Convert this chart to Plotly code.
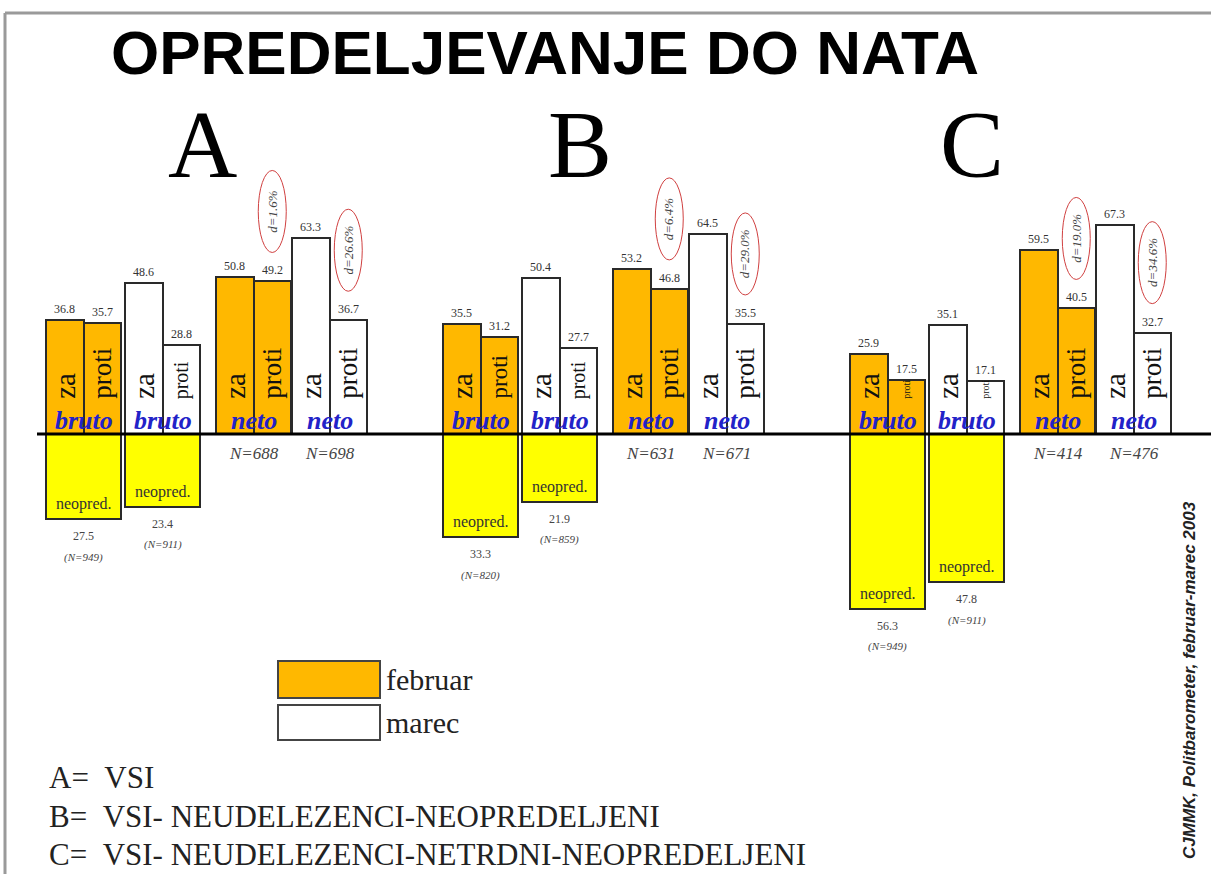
import plotly.graph_objects as go

# --- data ---
groups = ["A", "B", "C"]
feb_bruto_za = [36.8, 35.5, 25.9]
feb_bruto_proti = [35.7, 31.2, 17.5]
mar_bruto_za = [48.6, 50.4, 35.1]
mar_bruto_proti = [28.8, 27.7, 17.1]
feb_neto_za = [50.8, 53.2, 59.5]
feb_neto_proti = [49.2, 46.8, 40.5]
mar_neto_za = [63.3, 64.5, 67.3]
mar_neto_proti = [36.7, 35.5, 32.7]
feb_neopred = [27.5, 33.3, 56.3]
mar_neopred = [23.4, 21.9, 47.8]
feb_neopred_n = [949, 820, 949]
mar_neopred_n = [911, 859, 911]
feb_neto_n = [688, 631, 414]
mar_neto_n = [698, 671, 476]
group_notes = ["VSI",
               "VSI- NEUDELEZENCI-NEOPREDELJENI",
               "VSI- NEUDELEZENCI-NETRDNI-NEOPREDELJENI"]

# --- layout constants ---
W, H = 1211, 874
BASE = 434          # pixel row of the zero line
PPU = 3.1           # pixels per percentage point
group_start = [46, 443, 850]
sub_offset = [0, 79, 170, 246]   # feb bruto, marec bruto, feb neto, marec neto
bw = 37.5
ORANGE = "#FFB800"
YELLOW = "#FFFF00"
EDGE = "#2a2a2a"
BLUE = "#2222c8"
SERIF = "Liberation Serif"
proti_size_bruto_feb = [27, 23, 10]
proti_size_bruto_mar = [20, 20, 10]


def px(x):
    return x / W


def py(y):
    return 1 - y / H


def bar_x(g, s, b):
    return group_start[g] + sub_offset[s] + b * bw + bw / 2


fig = go.Figure()

# orange (februar) and white (marec) bars
for color, subs in [(ORANGE, [(0, feb_bruto_za, feb_bruto_proti), (2, feb_neto_za, feb_neto_proti)]),
                    ("white", [(1, mar_bruto_za, mar_bruto_proti), (3, mar_neto_za, mar_neto_proti)])]:
    xs, ys = [], []
    for s, za, proti in subs:
        for g in range(3):
            xs += [bar_x(g, s, 0), bar_x(g, s, 1)]
            ys += [za[g], proti[g]]
    fig.add_trace(go.Bar(x=xs, y=ys, width=bw, marker=dict(color=color, line=dict(color=EDGE, width=2)),
                         showlegend=False, hoverinfo="y"))

# neopredeljeni (yellow, below zero)
nx, ny = [], []
for g in range(3):
    nx += [group_start[g] + sub_offset[0] + bw, group_start[g] + sub_offset[1] + bw]
    ny += [-feb_neopred[g], -mar_neopred[g]]
fig.add_trace(go.Bar(x=nx, y=ny, width=2 * bw, marker=dict(color=YELLOW, line=dict(color=EDGE, width=2)),
                     showlegend=False, hoverinfo="y"))

ann = []
shapes = []


def label(x, y, text, size, yshift=0, color="#333", angle=0, **kw):
    ann.append(dict(x=x, y=y, xref="x", yref="y", text=text, showarrow=False, textangle=angle,
                    yshift=yshift, font=dict(family=SERIF, size=size, color=color), **kw))


def page_text(x, y, text, size, family=SERIF, color="#222", xanchor="center", angle=0):
    ann.append(dict(x=px(x), y=py(y), xref="paper", yref="paper", text=text, showarrow=False,
                    xanchor=xanchor, yanchor="middle", textangle=angle,
                    font=dict(family=family, size=size, color=color)))


for g in range(3):
    bars = [(0, feb_bruto_za, feb_bruto_proti, "bruto", proti_size_bruto_feb[g]),
            (1, mar_bruto_za, mar_bruto_proti, "bruto", proti_size_bruto_mar[g]),
            (2, feb_neto_za, feb_neto_proti, "neto", 27),
            (3, mar_neto_za, mar_neto_proti, "neto", 27)]
    for s, za, proti, kind, psize in bars:
        xz, xp = bar_x(g, s, 0), bar_x(g, s, 1)
        label(xz, za[g], f"{za[g]:.1f}", 12, yshift=2, yanchor="bottom")
        label(xp, proti[g], f"{proti[g]:.1f}", 12, yshift=2, yanchor="bottom")
        label(xz, 0, "za", 29, yshift=35 + 0.888 * 29 / 2, color="#111", angle=-90, yanchor="middle")
        label(xp, 0, "proti", psize, yshift=35 + 1.889 * psize / 2, color="#111", angle=-90,
              yanchor="middle")
        label((xz + xp) / 2, 0, f"<b><i>{kind}</i></b>", 26, yshift=14, color=BLUE, yanchor="middle")
        if kind == "neto":
            # difference za - proti, circled in red above the proti bar
            d = za[g] - proti[g]
            cy = proti[g] + 70 / PPU
            shapes.append(dict(type="circle", xref="x", yref="y", x0=xp - 14, x1=xp + 14,
                               y0=cy - 41 / PPU, y1=cy + 41 / PPU,
                               line=dict(color="#d04040", width=1)))
            label(xp, cy, f"<i>d={d:.1f}%</i>", 13, color="#444", angle=-90, yanchor="middle")
            n = feb_neto_n[g] if s == 2 else mar_neto_n[g]
            label((xz + xp) / 2, 0, f"<i>N={n}</i>", 17, yshift=-19, color="#444", yanchor="middle")

    for s, val, n in [(0, feb_neopred, feb_neopred_n), (1, mar_neopred, mar_neopred_n)]:
        cx = group_start[g] + sub_offset[s] + bw
        label(cx, -val[g], "neopred.", 16, yshift=4, color="#333", yanchor="bottom")
        label(cx, -val[g], f"{val[g]:.1f}", 12, yshift=-17, color="#444", yanchor="middle")
        label(cx, -val[g], f"<i>(N={n[g]})</i>", 11, yshift=-38, color="#444", yanchor="middle")

# zero line
shapes.append(dict(type="line", xref="x", yref="y", x0=37, x1=W, y0=0, y1=0,
                   line=dict(color="black", width=3)))
# frame
shapes.append(dict(type="line", xref="paper", yref="paper", x0=px(5), x1=1, y0=py(13), y1=py(13),
                   line=dict(color="#9a9a9a", width=3)))
shapes.append(dict(type="line", xref="paper", yref="paper", x0=px(5), x1=px(5), y0=py(13), y1=0,
                   line=dict(color="#9a9a9a", width=3)))

# legend boxes
for (y0, y1), fill, name in [((661, 698), ORANGE, "februar"), ((705, 740), "white", "marec")]:
    shapes.append(dict(type="rect", xref="paper", yref="paper", x0=px(278), x1=px(380),
                       y0=py(y1), y1=py(y0), fillcolor=fill, line=dict(color="#444", width=2)))
    page_text(384, (y0 + y1) / 2, name, 30, xanchor="left")

# title and group letters
page_text(545, 52, "<b>OPREDELJEVANJE DO NATA</b>", 62, family="Liberation Sans", color="black")
letter_x = [202, 580, 972]
for g, letter in enumerate(groups):
    page_text(letter_x[g], 145, letter, 96, color="black")

# group definitions at the bottom
note_y = [777, 816, 854]
for g, letter in enumerate(groups):
    page_text(47, note_y[g], f"{letter}=\u00a0\u00a0{group_notes[g]}", 31, xanchor="left")

# source, vertical on the right
page_text(1189, 680, "<b><i>CJMMK, Politbarometer, februar-marec 2003</i></b>", 17,
          family="Liberation Sans", angle=-90)

fig.update_layout(
    width=W, height=H,
    margin=dict(l=0, r=0, t=0, b=0),
    paper_bgcolor="white", plot_bgcolor="white",
    barmode="overlay", bargap=0,
    xaxis=dict(range=[0, W], visible=False, fixedrange=True),
    yaxis=dict(range=[-(H - BASE) / PPU, BASE / PPU], visible=False, fixedrange=True),
    shapes=shapes, annotations=ann,
)

fig.write_html("out.html", config={"displayModeBar": False},
               post_script="document.body.style.margin='0px';")
